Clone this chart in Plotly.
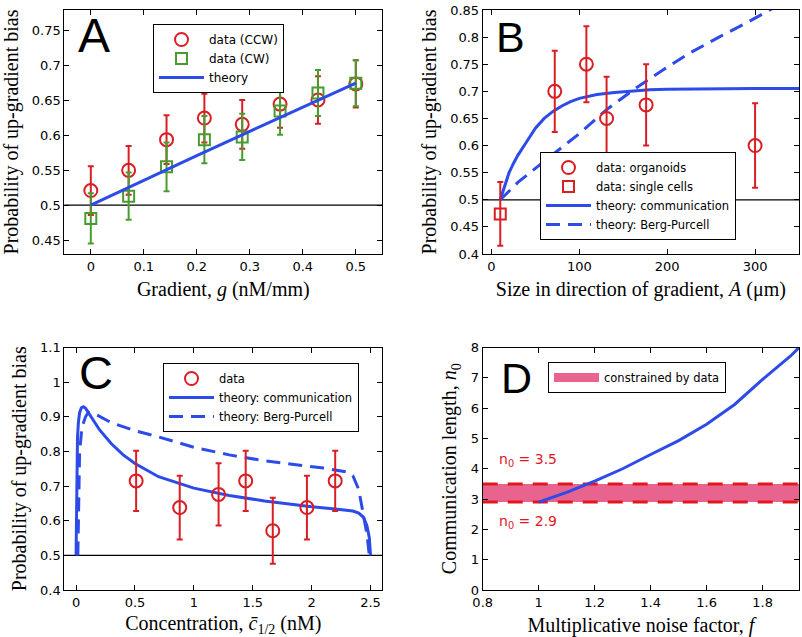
import plotly.graph_objects as go

W, H = 802, 637

# ---------------- Panel A data ----------------
grad_g = [0.0, 0.0714, 0.1429, 0.2143, 0.2857, 0.3571, 0.4286, 0.5]
ccw_prob = [0.521, 0.550, 0.594, 0.625, 0.616, 0.645, 0.651, 0.674]
ccw_err = [0.035, 0.035, 0.035, 0.035, 0.035, 0.034, 0.034, 0.034]
cw_prob = [0.481, 0.513, 0.555, 0.594, 0.598, 0.635, 0.661, 0.675]
cw_err = [0.036, 0.034, 0.035, 0.034, 0.033, 0.034, 0.033, 0.033]
theoryA_g = [0.0, 0.1, 0.2, 0.3, 0.4, 0.5]
theoryA_p = [0.5, 0.536, 0.571, 0.606, 0.641, 0.675]

# ---------------- Panel B data ----------------
org_size = [72, 108, 131, 176, 300]
org_prob = [0.700, 0.750, 0.650, 0.675, 0.600]
org_err = [0.075, 0.070, 0.077, 0.075, 0.078]
cell_size = [10]
cell_prob = [0.474]
cell_err = [0.059]
commB_A = [10, 15, 20, 25, 30, 40, 50, 60, 70, 80, 90, 100, 120, 140, 160, 180, 200, 250, 300, 350]
commB_p = [0.5, 0.527, 0.55, 0.567, 0.582, 0.607, 0.632, 0.65, 0.663, 0.673, 0.681, 0.687,
           0.694, 0.698, 0.701, 0.703, 0.704, 0.705, 0.705, 0.705]
bpB_A = [10, 30, 60, 100, 130, 160, 190, 225, 260, 290, 320, 340]
bpB_p = [0.5, 0.532, 0.571, 0.622, 0.665, 0.701, 0.734, 0.770, 0.801, 0.826, 0.853, 0.87]

# ---------------- Panel C data ----------------
conc_c = [0.51, 0.88, 1.21, 1.44, 1.67, 1.96, 2.20]
conc_prob = [0.715, 0.638, 0.676, 0.715, 0.571, 0.638, 0.715]
conc_err = [0.087, 0.092, 0.090, 0.087, 0.095, 0.092, 0.087]
commC_c = [0.0, 0.004, 0.008, 0.012, 0.02, 0.03, 0.045, 0.062, 0.08, 0.1, 0.15, 0.2, 0.3, 0.4,
           0.5, 0.7, 1.0, 1.3, 1.6, 2.0, 2.2, 2.35, 2.4, 2.44, 2.47, 2.49, 2.5]
commC_p = [0.5, 0.68, 0.78, 0.84, 0.885, 0.912, 0.926, 0.929, 0.925, 0.915, 0.888, 0.862, 0.822,
           0.79, 0.765, 0.727, 0.694, 0.673, 0.657, 0.64, 0.634, 0.628, 0.622, 0.61, 0.585, 0.55, 0.5]
bpC_c = [0.015, 0.02, 0.03, 0.05, 0.08, 0.105, 0.15, 0.3, 0.5, 0.7, 1.0, 1.3, 1.6, 1.9, 2.1, 2.3,
         2.35, 2.4, 2.44, 2.47, 2.49]
bpC_p = [0.5, 0.65, 0.8, 0.87, 0.9, 0.913, 0.91, 0.883, 0.86, 0.842, 0.812, 0.79, 0.773, 0.76,
         0.752, 0.741, 0.73, 0.69, 0.62, 0.56, 0.5]

# ---------------- Panel D data ----------------
noise_f = [1.0, 1.1, 1.2, 1.3, 1.4, 1.5, 1.6, 1.7, 1.8, 1.9, 1.93]
comm_len = [2.9, 3.22, 3.59, 4.0, 4.47, 4.93, 5.47, 6.12, 6.95, 7.72, 8.0]
band_lo, band_hi = 2.9, 3.5

# ---------------- ticks ----------------
tickA_x = [0, 0.1, 0.2, 0.3, 0.4, 0.5]
tickA_y = [0.45, 0.5, 0.55, 0.6, 0.65, 0.7, 0.75]
tickB_x = [0, 100, 200, 300]
tickB_y = [0.4, 0.45, 0.5, 0.55, 0.6, 0.65, 0.7, 0.75, 0.8, 0.85]
tickC_x = [0, 0.5, 1, 1.5, 2, 2.5]
tickC_y = [0.4, 0.5, 0.6, 0.7, 0.8, 0.9, 1.0, 1.1]
tickD_x = [0.8, 1.0, 1.2, 1.4, 1.6, 1.8]
tickD_y = [0, 1, 2, 3, 4, 5, 6, 7, 8]

rangeA_x, rangeA_y = [-0.05, 0.55], [0.43, 0.78]
rangeB_x, rangeB_y = [-10, 350], [0.4, 0.85]
rangeC_x, rangeC_y = [-0.1, 2.6], [0.4, 1.1]
rangeD_x, rangeD_y = [0.8, 1.93], [0, 8]

RED = "#D91E24"
GREEN = "#4A9B2F"
BLUE = "#2D4BE8"
PINK = "#E8648F"
DRED = "#E3161E"


def px_x(p):
    return p / W


def px_y(p):
    return 1 - p / H


TICKFONT = dict(family="DejaVu Sans", size=13, color="black")
TITLEFONT = dict(family="Liberation Serif", size=20, color="black")


def make_axis(domain, rng, tickvals, title, anchor, standoff):
    return dict(domain=domain, range=rng, tickvals=tickvals, ticks="inside", ticklen=5,
                tickwidth=1, tickcolor="black", showline=True, linecolor="black", linewidth=1,
                mirror="ticks", showgrid=False, zeroline=False, anchor=anchor, automargin=False,
                title=dict(text=title, font=TITLEFONT, standoff=standoff),
                tickfont=TICKFONT)


fig = go.Figure()

# ---- Panel A ----
fig.add_trace(go.Scatter(x=grad_g, y=ccw_prob, mode="markers", name="data (CCW)",
                         marker=dict(symbol="circle-open", size=13, color=RED, line=dict(width=2, color=RED)),
                         error_y=dict(type="data", array=ccw_err, color=RED, thickness=2, width=3),
                         xaxis="x", yaxis="y", legend="legend"))
fig.add_trace(go.Scatter(x=grad_g, y=cw_prob, mode="markers", name="data (CW)",
                         marker=dict(symbol="square-open", size=11, color=GREEN, line=dict(width=2, color=GREEN)),
                         error_y=dict(type="data", array=cw_err, color=GREEN, thickness=2, width=3),
                         xaxis="x", yaxis="y", legend="legend"))
fig.add_trace(go.Scatter(x=theoryA_g, y=theoryA_p, mode="lines", name="theory",
                         line=dict(color=BLUE, width=3), xaxis="x", yaxis="y", legend="legend"))

# ---- Panel B ----
fig.add_trace(go.Scatter(x=commB_A, y=commB_p, mode="lines", name="theory: communication",
                         line=dict(color=BLUE, width=3), xaxis="x2", yaxis="y2", legend="legend2",
                         legendrank=3))
fig.add_trace(go.Scatter(x=bpB_A, y=bpB_p, mode="lines", name="theory: Berg-Purcell",
                         line=dict(color=BLUE, width=3, dash="14px,8px"), xaxis="x2", yaxis="y2",
                         legend="legend2", legendrank=4))
fig.add_trace(go.Scatter(x=org_size, y=org_prob, mode="markers", name="data: organoids",
                         marker=dict(symbol="circle-open", size=13, color=RED, line=dict(width=2, color=RED)),
                         error_y=dict(type="data", array=org_err, color=RED, thickness=2, width=3),
                         xaxis="x2", yaxis="y2", legend="legend2", legendrank=1))
fig.add_trace(go.Scatter(x=cell_size, y=cell_prob, mode="markers", name="data: single cells",
                         marker=dict(symbol="square-open", size=11, color=RED, line=dict(width=2, color=RED)),
                         error_y=dict(type="data", array=cell_err, color=RED, thickness=2, width=3),
                         xaxis="x2", yaxis="y2", legend="legend2", legendrank=2))

# ---- Panel C ----
fig.add_trace(go.Scatter(x=commC_c, y=commC_p, mode="lines", name="theory: communication",
                         line=dict(color=BLUE, width=3), xaxis="x3", yaxis="y3", legend="legend3",
                         legendrank=2))
fig.add_trace(go.Scatter(x=bpC_c, y=bpC_p, mode="lines", name="theory: Berg-Purcell",
                         line=dict(color=BLUE, width=3, dash="14px,8px"), xaxis="x3", yaxis="y3",
                         legend="legend3", legendrank=3))
fig.add_trace(go.Scatter(x=conc_c, y=conc_prob, mode="markers", name="data",
                         marker=dict(symbol="circle-open", size=13, color=RED, line=dict(width=2, color=RED)),
                         error_y=dict(type="data", array=conc_err, color=RED, thickness=2, width=3),
                         xaxis="x3", yaxis="y3", legend="legend3", legendrank=1))

# ---- Panel D ----
fig.add_trace(go.Scatter(x=[rangeD_x[0], rangeD_x[1]], y=[band_lo, band_lo], mode="lines",
                         line=dict(width=0, color=PINK), showlegend=False,
                         xaxis="x4", yaxis="y4", hoverinfo="skip"))
fig.add_trace(go.Scatter(x=[rangeD_x[0], rangeD_x[1]], y=[band_hi, band_hi], mode="lines",
                         line=dict(width=0, color=PINK), fill="tonexty", fillcolor=PINK,
                         showlegend=False, xaxis="x4", yaxis="y4", hoverinfo="skip"))
fig.add_trace(go.Scatter(x=[None], y=[None], mode="lines", name="constrained by data",
                         line=dict(color=PINK, width=9), xaxis="x4", yaxis="y4", legend="legend4"))
for yv in (band_lo, band_hi):
    fig.add_trace(go.Scatter(x=[rangeD_x[0], rangeD_x[1]], y=[yv, yv], mode="lines",
                             line=dict(color=DRED, width=3, dash="15px,10px"), showlegend=False,
                             xaxis="x4", yaxis="y4"))
fig.add_trace(go.Scatter(x=noise_f, y=comm_len, mode="lines", line=dict(color=BLUE, width=3),
                         showlegend=False, xaxis="x4", yaxis="y4"))

# ---- layout ----
xA = [px_x(64.3), px_x(382.3)]
xB = [px_x(482.7), px_x(799)]
yT = [px_y(254), px_y(10)]
yBt = [px_y(590), px_y(347.5)]

ylab = "Probability of up-gradient bias"
XS, YS = 9, 8
fig.update_layout(
    width=W, height=H, margin=dict(l=0, r=0, t=0, b=0, autoexpand=False),
    paper_bgcolor="white", plot_bgcolor="white",
    xaxis=make_axis(xA, rangeA_x, tickA_x, "Gradient, <i>g</i> (nM/mm)", "y", XS),
    yaxis=make_axis(yT, rangeA_y, tickA_y, ylab, "x", YS),
    xaxis2=make_axis(xB, rangeB_x, tickB_x, "Size in direction of gradient, <i>A</i> (μm)", "y2", XS),
    yaxis2=make_axis(yT, rangeB_y, tickB_y, ylab, "x2", YS),
    xaxis3=make_axis(xA, rangeC_x, tickC_x, "Concentration, <i>c̄</i><sub>1/2</sub> (nM)", "y3", 8),
    yaxis3=make_axis(yBt, rangeC_y, tickC_y, ylab, "x3", YS),
    xaxis4=make_axis(xB, rangeD_x, tickD_x, "Multiplicative noise factor, <i>f</i>", "y4", XS),
    yaxis4=make_axis(yBt, rangeD_y, tickD_y, "Communication length, <i>n</i><sub>0</sub>", "x4", YS),
    showlegend=True,
)

legend_common = dict(bordercolor="black", borderwidth=1, bgcolor="white",
                     tracegroupgap=0, itemclick=False, traceorder="normal", itemwidth=45)
LFONT = dict(family="DejaVu Sans", size=11.5, color="black")
fig.update_layout(
    legend=dict(x=px_x(153), y=px_y(24), xanchor="left", yanchor="top",
                font=dict(family="DejaVu Sans", size=12, color="black"), **legend_common),
    legend2=dict(x=px_x(540), y=px_y(240), xanchor="left", yanchor="bottom", font=LFONT,
                 **legend_common),
    legend3=dict(x=px_x(163), y=px_y(363), xanchor="left", yanchor="top", font=LFONT,
                 **legend_common),
    legend4=dict(x=px_x(548), y=px_y(362), xanchor="left", yanchor="top", font=LFONT,
                 **legend_common),
)

# reference lines at 0.5
for xr, yr in (("x", "y"), ("x2", "y2"), ("x3", "y3")):
    fig.add_shape(type="line", xref=f"{xr} domain", x0=0, x1=1, yref=yr, y0=0.5, y1=0.5,
                  line=dict(color="black", width=1.3), layer="below")

# panel letters
letters = [("A", 76, 35, 48), ("B", 494, 37, 43), ("C", 77, 372.5, 47), ("D", 499, 378, 43)]
for txt, lx, ly, fs in letters:
    fig.add_annotation(text=txt, xref="paper", yref="paper", x=px_x(lx), y=px_y(ly),
                       xanchor="left", yanchor="middle", showarrow=False,
                       font=dict(family="Liberation Sans", size=fs, color="black"))

# n0 labels in panel D
for val, yv in ((band_hi, 4.3), (band_lo, 2.25)):
    fig.add_annotation(text=f"n<sub>0</sub> = {val}", xref="x4", yref="y4", x=0.85, y=yv,
                       xanchor="left", yanchor="middle", showarrow=False,
                       font=dict(family="DejaVu Sans", size=14, color=DRED))

fig.write_html("out.html", config={"displayModeBar": False},
               post_script="document.body.style.margin='0';document.body.style.padding='0';"
                           "document.body.style.overflow='hidden';")
